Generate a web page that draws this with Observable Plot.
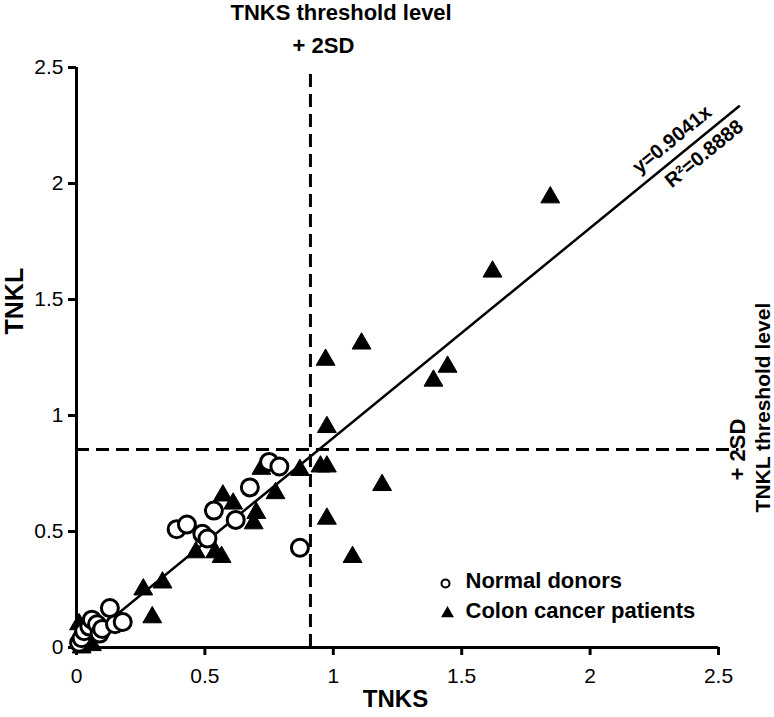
<!DOCTYPE html>
<html>
<head>
<meta charset="utf-8">
<script src="https://cdn.jsdelivr.net/npm/d3@7"></script>
<script src="https://cdn.jsdelivr.net/npm/@observablehq/plot@0.6"></script>
<style>
  html, body { margin: 0; padding: 0; background: #fff; }
</style>
</head>
<body>
<div id="chart"></div>
<script>
// Normal donors (open circles)
const normalTNKS = [0.01, 0.02, 0.03, 0.05, 0.06, 0.08, 0.09, 0.10, 0.13, 0.15, 0.18, 0.39, 0.43, 0.49, 0.51, 0.535, 0.62, 0.675, 0.75, 0.79, 0.87];
const normalTNKL = [0.02, 0.04, 0.07, 0.09, 0.12, 0.10, 0.06, 0.08, 0.17, 0.10, 0.11, 0.51, 0.53, 0.49, 0.47, 0.59, 0.55, 0.69, 0.80, 0.78, 0.43];

// Colon cancer patients (filled triangles)
const cancerTNKS = [0.01, 0.02, 0.06, 0.26, 0.295, 0.335, 0.465, 0.54, 0.565, 0.57, 0.61, 0.69, 0.70, 0.72, 0.775, 0.87, 0.95, 0.975, 0.975, 0.975, 0.97, 1.075, 1.11, 1.19, 1.39, 1.445, 1.62, 1.845];
const cancerTNKL = [0.10, 0.00, 0.01, 0.25, 0.13, 0.28, 0.41, 0.41, 0.39, 0.655, 0.62, 0.535, 0.58, 0.77, 0.665, 0.765, 0.78, 0.78, 0.555, 0.95, 1.24, 0.39, 1.31, 0.70, 1.15, 1.21, 1.62, 1.94];

// Thresholds (+2SD) and regression
const thresholdTNKS = 0.911;
const thresholdTNKL = 0.853;
const slope = 0.9041;
const fitRangeX = [0, 2.58];
const equationLabel = "y=0.9041x";
const r2Label = "R²=0.8888";

// Axes
const tickValues = [0, 0.5, 1, 1.5, 2, 2.5];
const tickLabels = ["0", "0.5", "1", "1.5", "2", "2.5"];
const legendLabels = ["Normal donors", "Colon cancer patients"];

const normal = normalTNKS.map((x, i) => ({x, y: normalTNKL[i]}));
const cancer = cancerTNKS.map((x, i) => ({x, y: cancerTNKL[i]}));
const fit = fitRangeX.map(x => ({x, y: slope * x}));
const fmt = d => tickLabels[tickValues.indexOf(d)];

const xPx = 256.8, yPx = 232; // approx pixels per unit, used only for label angle
const angle = -Math.atan(slope * yPx / xPx) * 180 / Math.PI;

const bold = {fontWeight: "bold", fontSize: 22};

const chart = Plot.plot({
  width: 774,
  height: 717,
  marginLeft: 76,
  marginRight: 56,
  marginTop: 67,
  marginBottom: 70,
  style: {fontFamily: "'Liberation Sans', Arial, sans-serif", fontSize: "21px", color: "black", background: "white"},
  x: {domain: [0, 2.5]},
  y: {domain: [0, 2.5]},
  marks: [
    Plot.axisX({ticks: tickValues, tickFormat: fmt, tickSize: 8, tickPadding: 13, strokeWidth: 3, label: null, fontSize: 21}),
    Plot.axisY({ticks: tickValues, tickFormat: fmt, tickSize: 8, tickPadding: 5, strokeWidth: 3, label: null, fontSize: 21}),
    Plot.ruleX([0], {y1: 0, y2: 2.5, strokeWidth: 3}),
    Plot.ruleY([0], {x1: 0, x2: 2.5, strokeWidth: 3}),
    // threshold lines
    Plot.ruleX([thresholdTNKS], {y1: 0, y2: 2.5, strokeWidth: 3, strokeDasharray: "13,7"}),
    Plot.ruleY([thresholdTNKL], {x1: 0, x2: fitRangeX[1], strokeWidth: 3, strokeDasharray: "13,7"}),
    // regression line
    Plot.line(fit, {x: "x", y: "y", strokeWidth: 2.5, stroke: "black"}),
    // data
    Plot.dot(cancer, {x: "x", y: "y", symbol: "triangle", r: 7, fill: "black", stroke: "black", strokeWidth: 1}),
    Plot.dot(normal, {x: "x", y: "y", symbol: "circle", r: 8.5, fill: "white", stroke: "black", strokeWidth: 3}),
    // regression labels
    Plot.text([equationLabel], {x: 2.35, y: 2.35 * slope, text: d => d, rotate: angle, dx: -8, dy: -15, fontWeight: "bold", fontSize: 20}),
    Plot.text([r2Label], {x: 2.44, y: 2.44 * slope, text: d => d, rotate: angle, dx: 1, dy: 18, fontWeight: "bold", fontSize: 20}),
    // threshold labels
    Plot.text(["TNKS threshold level"], {x: thresholdTNKS, y: 2.5, text: d => d, textAnchor: "start", dx: -80, dy: -55, ...bold}),
    Plot.text(["+ 2SD"], {x: thresholdTNKS, y: 2.5, text: d => d, dx: 13, dy: -22, ...bold}),
    Plot.text(["+ 2SD"], {x: 2.5, y: thresholdTNKL, text: d => d, rotate: -90, dx: 19, dy: 0, ...bold}),
    Plot.text(["TNKL threshold level"], {x: 2.5, y: thresholdTNKL, text: d => d, rotate: -90, dx: 45, dy: -42, fontWeight: "bold", fontSize: 21}),
    // axis titles
    Plot.text(["TNKL"], {frameAnchor: "left", text: d => d, rotate: -90, dx: -62, dy: -23, fontWeight: "bold", fontSize: 25}),
    Plot.text(["TNKS"], {frameAnchor: "bottom", text: d => d, dx: -2, dy: 59, fontWeight: "bold", fontSize: 24}),
    // legend
    Plot.dot([legendLabels[0]], {frameAnchor: "bottom-left", dx: 369, dy: -64, symbol: "circle", r: 4, fill: "white", stroke: "black", strokeWidth: 2}),
    Plot.dot([legendLabels[1]], {frameAnchor: "bottom-left", dx: 371, dy: -34, symbol: "triangle", r: 4.8, fill: "black"}),
    Plot.text([legendLabels[0]], {frameAnchor: "bottom-left", text: d => d, textAnchor: "start", dx: 389, dy: -60, ...bold}),
    Plot.text([legendLabels[1]], {frameAnchor: "bottom-left", text: d => d, textAnchor: "start", dx: 389, dy: -30, ...bold})
  ]
});
document.getElementById("chart").appendChild(chart);
</script>
</body>
</html>
